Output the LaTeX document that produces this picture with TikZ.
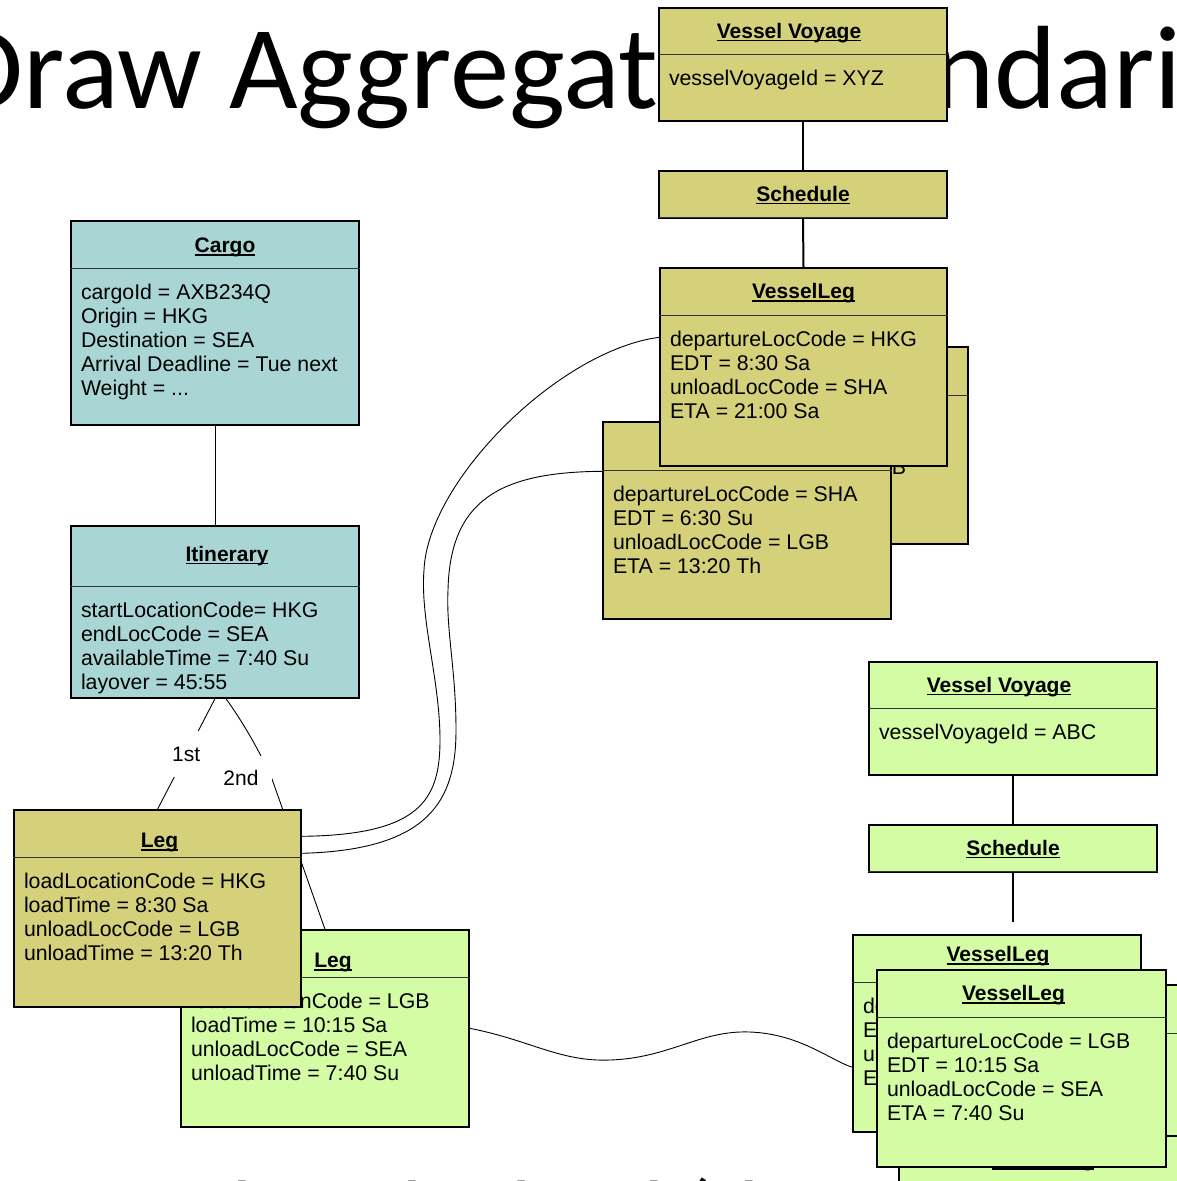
\documentclass[tikz,border=0pt]{standalone}
\usepackage{fontspec}
\setmainfont{Liberation Sans}
\newfontfamily\titlefont{Carlito}
\usetikzlibrary{fit,calc}
\definecolor{colive}{HTML}{D4D17A}
\definecolor{cteal}{HTML}{A9D5D5}
\definecolor{cgreen}{HTML}{D4FCA5}
\newcommand\uln[1]{\setbox0\hbox{#1}\rlap{\rule[-3pt]{\wd0}{1.7pt}}\box0}
\pgfdeclarelayer{bgtext}
\pgfdeclarelayer{conn}
\pgfsetlayers{bgtext,conn,main}
\tikzset{
  objshape/.style={draw=black, line width=1.4pt, inner sep=0pt, rectangle},
  divline/.style={draw=black!80, line width=1pt},
  titletxt/.style={font=\fontsize{21}{24}\selectfont\bfseries, inner sep=0pt},
  attrtxt/.style={font=\fontsize{21.3}{24}\selectfont, align=left, inner sep=0pt},
  thickconn/.style={draw=black, line width=2pt},
  thinconn/.style={draw=black, line width=0.9pt},
  lbl/.style={fill=white, font=\fontsize{21}{24}\selectfont, inner sep=0pt}
}
% name, colour, corner1, corner2, header height, title dx, title dy, title, attributes
\newcommand\objbox[9]{%
  \node[objshape, fill=#2, fit={#3 #4}] (#1) {};
  \draw[divline] ([yshift=-#5pt]#1.north west) -- ([yshift=-#5pt]#1.north east);
  \node[titletxt, anchor=base] at ([xshift=#6pt, yshift={-#5*0.5pt-7.5pt-#7pt}]#1.north) {\uln{#8}};
  \node[attrtxt, anchor=north west] at ([xshift=10.5pt, yshift={-#5pt-15.5pt}]#1.north west) {#9};
}
\begin{document}
\begin{tikzpicture}[x=1pt,y=-1pt]
\useasboundingbox (0,0) rectangle (1176,1181);
\begin{pgfonlayer}{bgtext}
  \begin{scope}
  \clip (0,0) rectangle (1176,1181);
  \node[anchor=base west, inner sep=0pt, font=\titlefont\fontsize{118.5}{118.5}\selectfont] (ttl) at (-50,108) {Draw Aggregate Boundaries};
  \node[anchor=base west, inner sep=0pt, font=\titlefont\fontsize{87}{87}\selectfont] (sub) at (14,1241) {to anchor the load (the real)};
  \end{scope}
\end{pgfonlayer}

% top cluster
\objbox{vvx}{colive}{(659,8)}{(947,121)}{47}{-14}{0}{Vessel Voyage}{vesselVoyageId = XYZ}
\objbox{schx}{colive}{(659,171)}{(947,218)}{47}{0}{0}{Schedule}{}
\objbox{vlback}{colive}{(680,347)}{(968,544)}{49}{0}{0}{VesselLeg}{departureLocCode = SHA\\EDT = 6:30 Su\\unloadLocCode = LGB\\ETA = 13:20 Th}
\objbox{vlB}{colive}{(603,422)}{(891,619)}{49}{0}{0}{VesselLeg}{departureLocCode = SHA\\EDT = 6:30 Su\\unloadLocCode = LGB\\ETA = 13:20 Th}
\objbox{vlA}{colive}{(660,268)}{(947,466)}{48}{0}{0}{VesselLeg}{departureLocCode = HKG\\EDT = 8:30 Sa\\unloadLocCode = SHA\\ETA = 21:00 Sa}

% left cluster
\objbox{cargo}{cteal}{(71,221)}{(359,425)}{48}{10}{1}{Cargo}{cargoId = AXB234Q\\Origin = HKG\\Destination = SEA\\Arrival Deadline = Tue next\\Weight = ...}
\objbox{itin}{cteal}{(71,526)}{(359,698)}{61}{12}{-2}{Itinerary}{startLocationCode= HKG\\endLocCode = SEA\\availableTime = 7:40 Su\\layover = 45:55}
\objbox{legB}{cgreen}{(181,930)}{(469,1127)}{48}{8}{7}{Leg}{loadLocationCode = LGB\\loadTime = 10:15 Sa\\unloadLocCode = SEA\\unloadTime = 7:40 Su}
\objbox{legA}{colive}{(14,810)}{(301,1007)}{48}{2}{7}{Leg}{loadLocationCode = HKG\\loadTime = 8:30 Sa\\unloadLocCode = LGB\\unloadTime = 13:20 Th}

% bottom right cluster
\objbox{vvy}{cgreen}{(869,662)}{(1157,775)}{47}{-14}{0}{Vessel Voyage}{vesselVoyageId = ABC}
\objbox{schy}{cgreen}{(869,825)}{(1157,872)}{47}{0}{0}{Schedule}{}
\objbox{vlR}{cgreen}{(900,985)}{(1188,1182)}{49}{0}{0}{VesselLeg}{}
\objbox{vlBot}{cgreen}{(899,1136)}{(1187,1333)}{48}{0}{0}{VesselLeg}{}
\objbox{vlD}{cgreen}{(853,935)}{(1141,1132)}{48}{1}{-4}{VesselLeg}{departureLocCode = LGB\\EDT = 10:15 Sa\\unloadLocCode = SEA\\ETA = 7:40 Su}
\objbox{vlC}{cgreen}{(877,970)}{(1166,1167)}{48}{-8}{0}{VesselLeg}{departureLocCode = LGB\\EDT = 10:15 Sa\\unloadLocCode = SEA\\ETA = 7:40 Su}

\begin{pgfonlayer}{conn}
  \draw[thickconn] (vvx.south) -- (schx.north);
  \draw[thickconn] (schx.south) -- (vlA.north);
  \draw[thickconn] (vvy.south) -- (schy.north);
  \draw[thickconn, shorten >=12pt] (schy.south) -- (schy.south |- vlD.north);
  \draw[thinconn] (cargo.south) -- (itin.north);
  \draw[thinconn] (itin.south) -- node[lbl, minimum width=40pt, minimum height=46pt] (l1) {1st} (legA.north);
  \draw[thinconn] ([xshift=11pt]itin.south) .. controls (245,725) and (262,756) .. (272,779) -- (legB.north);
  \node[lbl, minimum width=62pt, minimum height=44pt] (l2) at (241,778) {2nd};
  \draw[thinconn] ([yshift=-27pt]legA.north east) .. controls (420,835) and (440,800) .. (440,740)
     .. controls (440,680) and (420,620) .. (424,570)
     .. controls (428,480) and (560,350) .. ([yshift=-70pt]vlA.north west);
  \draw[thinconn] ([yshift=-44pt]legA.north east) .. controls (430,850) and (456,800) .. (456,730)
     .. controls (456,670) and (446,630) .. (448,590)
     .. controls (450,500) and (500,472) .. ([yshift=-50pt]vlB.north west);
  \draw[thinconn] ([yshift=-99pt]legB.north east) .. controls (530,1040) and (560,1062) .. (610,1060)
     .. controls (670,1058) and (700,1030) .. (750,1032)
     .. controls (800,1034) and (830,1060) .. ([yshift=-133pt]vlD.north west);
\end{pgfonlayer}
\end{tikzpicture}
\end{document}
